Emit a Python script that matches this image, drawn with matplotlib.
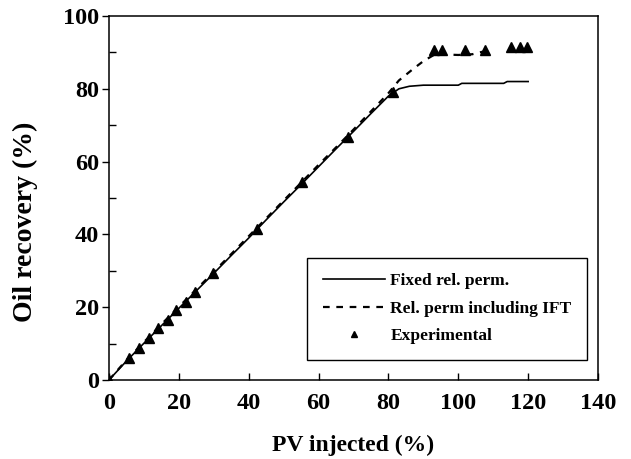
import matplotlib as mpl
import matplotlib.pyplot as plt
from matplotlib.ticker import MultipleLocator

mpl.use("Agg")

# simulated, fixed relative permeability
fixed_pv = [0, 5, 10, 15, 20, 25, 30, 35, 40, 45, 50, 55, 60, 65, 70, 75, 80,
            83, 86, 90, 95, 100, 101, 105, 110, 113, 114, 117, 120]
fixed_rec = [0, 5.2, 10.1, 14.9, 19.7, 24.5, 29.3, 34.2, 39.0, 44.0, 48.9,
             53.7, 58.6, 63.5, 68.3, 73.2, 78.0, 80.0, 80.7, 81.0, 81.0, 81.0,
             81.5, 81.5, 81.5, 81.5, 82.0, 82.0, 82.0]

# simulated, relative permeability including IFT
ift_pv = [0, 5, 10, 15, 20, 25, 30, 35, 40, 45, 50, 55, 60, 65, 70, 75, 80,
          83, 87, 90, 93, 97, 100, 104, 107]
ift_rec = [0, 5.5, 10.4, 15.3, 20.1, 24.9, 29.7, 34.6, 39.5, 44.4, 49.3, 54.2,
           59.1, 63.9, 68.8, 73.8, 78.8, 82.3, 85.4, 87.6, 89.3, 89.4, 89.3,
           89.5, 90.2]

# experimental points
exp_pv = [0, 5.8, 8.7, 11.5, 14.1, 16.8, 19.2, 22.0, 24.6, 29.9, 42.5, 55.4,
          68.3, 81.2, 93.1, 95.3, 101.9, 107.7, 115.1, 117.7, 119.6]
exp_rec = [0, 6.0, 8.7, 11.5, 14.2, 16.5, 19.2, 21.5, 24.1, 29.3, 41.4, 54.5,
           66.8, 79.2, 90.8, 90.8, 90.8, 90.8, 91.6, 91.6, 91.6]

plt.rcParams["font.family"] = ["Liberation Serif", "DejaVu Serif"]
plt.rcParams["font.weight"] = "bold"

fig = plt.figure(figsize=(6.31, 4.59), dpi=100)
ax = fig.add_axes([0.1727, 0.1721, 0.775, 0.793])

ax.plot(fixed_pv, fixed_rec, "-", color="black", lw=1.2, label="Fixed rel. perm.")
ax.plot(ift_pv, ift_rec, color="black", lw=1.6, dashes=(3, 3),
        label="Rel. perm including IFT")
ax.plot(exp_pv, exp_rec, "^", color="black", ms=7.5, ls="none",
        label="Experimental")

ax.set_xlim(0, 140)
ax.set_ylim(0, 100)
ax.xaxis.set_major_locator(MultipleLocator(20))
ax.yaxis.set_major_locator(MultipleLocator(20))
ax.yaxis.set_minor_locator(MultipleLocator(10))
ax.tick_params(axis="x", which="major", direction="in", length=5, width=1,
               labelsize=17.5, pad=9)
ax.tick_params(axis="y", which="major", direction="out", length=5, width=1,
               labelsize=17.5, pad=2)
ax.tick_params(axis="y", which="minor", direction="in", length=5, width=1)
for lab in ax.get_xticklabels() + ax.get_yticklabels():
    lab.set_fontweight("bold")
for s in ax.spines.values():
    s.set_linewidth(1.1)

ax.set_xlabel("PV injected (%)", fontsize=17, fontweight="bold", labelpad=15)
ax.set_ylabel("Oil recovery (%)", fontsize=20, fontweight="bold")
ax.yaxis.set_label_coords(-0.145, 0.434)

leg = ax.legend(loc="lower right", bbox_to_anchor=(0.9775, 0.055),
                borderaxespad=0, fancybox=False, edgecolor="black",
                framealpha=1, prop={"size": 12.5, "weight": "bold"},
                handlelength=3.6, labelspacing=0.65, borderpad=0.9,
                handletextpad=0.3, markerscale=0.6)
leg.get_frame().set_linewidth(1.0)

plt.savefig("out.png", dpi=100)
